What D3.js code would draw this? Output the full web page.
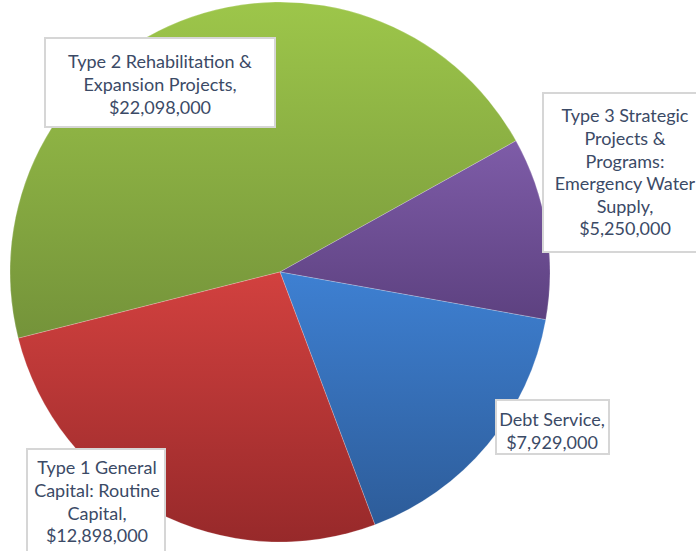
<!DOCTYPE html>
<html>
<head>
<meta charset="utf-8">
<script src="https://cdn.jsdelivr.net/npm/d3@7"></script>
<style>
  body { margin: 0; background: #ffffff; }
  svg { display: block; }
</style>
</head>
<body>
<div id="chart"></div>
<script>
const width = 696;
const height = 551;

// data
const categories = [
  "Type 2 Rehabilitation & Expansion Projects",
  "Type 3 Strategic Projects & Programs: Emergency Water Supply",
  "Debt Service",
  "Type 1 General Capital: Routine Capital"
];
const amounts = [22098000, 5250000, 7929000, 12898000];
const labelLines = [
  ["Type 2 Rehabilitation &", "Expansion Projects,"],
  ["Type 3 Strategic", "Projects &", "Programs:", "Emergency Water", "Supply,"],
  ["Debt Service,"],
  ["Type 1 General", "Capital: Routine", "Capital,"]
];

// styles
const topColors = ["#9dc64a", "#7e5ca8", "#3e80d2", "#d2413f"];
const bottomColors = ["#74933a", "#5d4180", "#2d5c99", "#97292a"];

// label box layout (x, y, w, h, text centre, first line centre)
const boxes = [
  { x: 45, y: 38, w: 230, h: 89, tx: 160, ty: 62 },
  { x: 543, y: 93, w: 160, h: 159, tx: 625, ty: 116 },
  { x: 496, y: 400, w: 113, h: 54, tx: 552, ty: 420 },
  { x: 27, y: 449, w: 138, h: 110, tx: 97, ty: 468 }
];
const lineHeight = 22.6;

const cx = 280, cy = 272, radius = 270;
const startAngle = -104.2 * Math.PI / 180;

const data = categories.map((c, i) => ({ name: c, value: amounts[i], i: i }));

const svg = d3.select("#chart")
  .append("svg")
  .attr("width", width)
  .attr("height", height);

const defs = svg.append("defs");
data.forEach((d, i) => {
  const g = defs.append("linearGradient")
    .attr("id", "grad" + i)
    .attr("x1", "0").attr("y1", "0")
    .attr("x2", "0").attr("y2", "1");
  g.append("stop").attr("offset", "0%").attr("stop-color", topColors[i]);
  g.append("stop").attr("offset", "100%").attr("stop-color", bottomColors[i]);
});

const pie = d3.pie()
  .sort(null)
  .value(d => d.value)
  .startAngle(startAngle)
  .endAngle(startAngle + 2 * Math.PI);

const arc = d3.arc().innerRadius(0).outerRadius(radius);

svg.append("g")
  .attr("transform", `translate(${cx},${cy})`)
  .selectAll("path")
  .data(pie(data))
  .enter()
  .append("path")
  .attr("d", arc)
  .attr("fill", d => `url(#grad${d.data.i})`)
  .attr("stroke", "rgba(255,255,255,0.35)")
  .attr("stroke-width", 0.6);

const fmt = d3.format("$,");

const labels = svg.append("g").selectAll("g")
  .data(data)
  .enter()
  .append("g");

labels.append("rect")
  .attr("x", d => boxes[d.i].x)
  .attr("y", d => boxes[d.i].y)
  .attr("width", d => boxes[d.i].w)
  .attr("height", d => boxes[d.i].h)
  .attr("fill", "#ffffff")
  .attr("stroke", "#d6d6d6")
  .attr("stroke-width", 2);

labels.each(function (d) {
  const b = boxes[d.i];
  const lines = labelLines[d.i].concat([fmt(d.value)]);
  d3.select(this).selectAll("text")
    .data(lines)
    .enter()
    .append("text")
    .attr("x", b.tx)
    .attr("y", (l, k) => b.ty + k * lineHeight)
    .attr("dy", "0.35em")
    .attr("text-anchor", "middle")
    .attr("font-family", "Lato, 'Open Sans', sans-serif")
    .attr("font-size", 18)
    .attr("fill", "#3b4a66")
    .text(l => l);
});
</script>
</body>
</html>
